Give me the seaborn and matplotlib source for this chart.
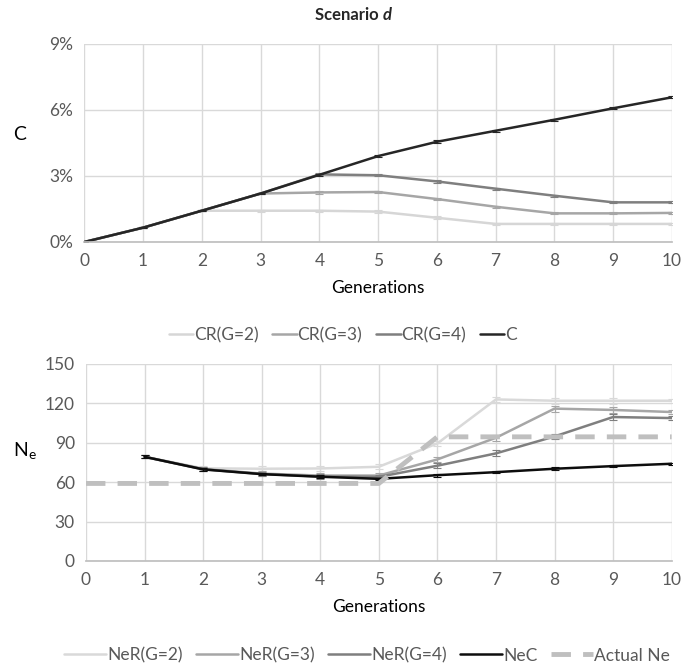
import numpy as np
import pandas as pd
import matplotlib
matplotlib.use("Agg")
import matplotlib.pyplot as plt
import seaborn as sns

gens = [0, 1, 2, 3, 4, 5, 6, 7, 8, 9, 10]

# top panel, C in %
c_vals = [0.0, 0.65, 1.42, 2.2, 3.05, 3.9, 4.55, 5.05, 5.55, 6.07, 6.57]
cr2 = [0.0, 0.65, 1.42, 1.42, 1.42, 1.38, 1.1, 0.82, 0.82, 0.82, 0.82]
cr3 = [0.0, 0.65, 1.42, 2.2, 2.25, 2.27, 1.95, 1.6, 1.3, 1.3, 1.32]
cr4 = [0.0, 0.65, 1.42, 2.2, 3.07, 3.03, 2.75, 2.42, 2.1, 1.8, 1.8]
c_err = [0.0, 0.03, 0.03, 0.04, 0.05, 0.05, 0.06, 0.05, 0.05, 0.05, 0.05]

# bottom panel, Ne
gens_ne = [1, 2, 3, 4, 5, 6, 7, 8, 9, 10]
nec = [79.3, 69.7, 66.1, 64.1, 62.5, 65.3, 67.6, 70.2, 72.2, 74.0]
ner2 = [79.3, 70.5, 70.2, 70.4, 71.7, 89.5, 123.0, 122.0, 122.0, 122.0]
ner3 = [79.3, 70.0, 66.5, 65.0, 65.0, 77.3, 93.8, 116.0, 115.0, 113.4]
ner4 = [79.3, 69.8, 66.2, 64.3, 64.0, 72.5, 81.9, 94.8, 109.6, 108.8]
nec_err = [1.0, 1.0, 1.0, 1.0, 1.0, 1.2, 1.0, 1.2, 1.0, 0.8]
ner_err = [1.0, 1.5, 1.8, 1.8, 1.8, 2.0, 2.2, 2.2, 2.2, 1.5]
actual_gens = [0, 1, 2, 3, 4, 5, 6, 7, 8, 9, 10]
actual_ne = [59, 59, 59, 59, 59, 59, 94.5, 94.5, 94.5, 94.5, 94.5]

sns.set_theme(style="whitegrid")
plt.rcParams['font.family'] = ['Lato', 'DejaVu Sans']

fig = plt.figure(figsize=(6.85, 6.63), dpi=100)
ax1 = fig.add_axes([0.123, 0.635, 0.858, 0.299])
ax2 = fig.add_axes([0.1255, 0.154, 0.855, 0.297])

tick_col = '#595959'
grid_col = '#d9d9d9'

top_series = [('CR(G=2)', cr2, '#d6d6d6'), ('CR(G=3)', cr3, '#a6a6a6'),
              ('CR(G=4)', cr4, '#7f7f7f'), ('C', c_vals, '#262626')]
for name, vals, col in top_series:
    df = pd.DataFrame({'gen': gens, 'val': vals})
    sns.lineplot(data=df, x='gen', y='val', ax=ax1, color=col, lw=1.8, label=name)
    ax1.errorbar(gens, vals, yerr=c_err, fmt='none', ecolor=col, elinewidth=0.8,
                 capsize=3, capthick=0.8)

bottom_series = [('NeR(G=2)', ner2, '#d9d9d9'), ('NeR(G=3)', ner3, '#a6a6a6'),
                 ('NeR(G=4)', ner4, '#7f7f7f'), ('NeC', nec, '#0d0d0d')]
for name, vals, col in bottom_series:
    df = pd.DataFrame({'gen': gens_ne, 'val': vals})
    sns.lineplot(data=df, x='gen', y='val', ax=ax2, color=col, lw=1.8, label=name)
    err = nec_err if name == 'NeC' else ner_err
    ax2.errorbar(gens_ne, vals, yerr=err, fmt='none', ecolor=col, elinewidth=0.8,
                 capsize=3, capthick=0.8)
df = pd.DataFrame({'gen': actual_gens, 'val': actual_ne})
sns.lineplot(data=df, x='gen', y='val', ax=ax2, color='#bfbfbf', lw=3.5,
             label='Actual Ne', dashes=False)
ax2.lines[-1].set_dashes([4, 2.5])

for ax in (ax1, ax2):
    ax.set_xlim(0, 10)
    ax.set_xticks(range(0, 11))
    ax.grid(True, color=grid_col, lw=1)
    for s in ['left', 'right', 'top']:
        ax.spines[s].set_visible(False)
    ax.spines['bottom'].set_color('#bfbfbf')
    ax.tick_params(axis='both', length=0, labelsize=12.5, colors=tick_col, pad=8)
    ax.set_xlabel('Generations', fontsize=12.5, color='#000000', labelpad=8)

ax1.set_ylim(0, 9)
ax1.set_yticks([0, 3, 6, 9])
ax1.set_yticklabels(['0%', '3%', '6%', '9%'])
ax1.set_ylabel('C', fontsize=14, rotation=0, color='black', labelpad=0)
ax1.yaxis.set_label_coords(-0.11, 0.5)

ax2.set_ylim(0, 150)
ax2.set_yticks([0, 30, 60, 90, 120, 150])
ax2.set_ylabel('N$_\\mathregular{e}$', fontsize=14, rotation=0, color='black')
ax2.yaxis.set_label_coords(-0.105, 0.5)

leg1 = ax1.legend(loc='upper center', bbox_to_anchor=(0.44, -0.35), ncol=4,
                  frameon=False, fontsize=12.5, handlelength=1.4, handletextpad=0.05,
                  columnspacing=0.8)
for t in leg1.get_texts():
    t.set_color(tick_col)
leg2 = ax2.legend(loc='upper center', bbox_to_anchor=(0.48, -0.36), ncol=5,
                  frameon=False, fontsize=12.5, handlelength=2.4, handletextpad=0.05,
                  columnspacing=0.8)
for t in leg2.get_texts():
    t.set_color(tick_col)

fig.text(0.559, 0.978, 'Scenario ', ha='right', va='center',
         fontsize=12, fontweight='bold')
fig.text(0.559, 0.978, 'd', ha='left', va='center',
         fontsize=12, fontweight='bold', fontstyle='italic')

fig.savefig('out.png', dpi=100)
